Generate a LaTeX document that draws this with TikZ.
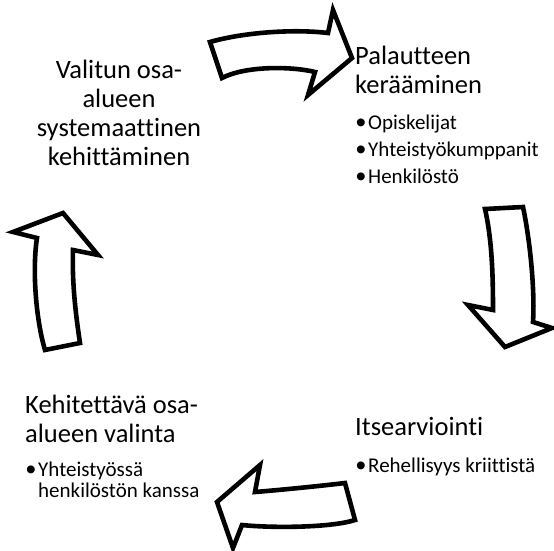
\documentclass[tikz,border=0pt]{standalone}
\usepackage{fontspec}
\setmainfont{Carlito}[Ligatures={NoCommon}]
\newfontfamily\bulletfont{Liberation Sans}
\begin{document}
\begin{tikzpicture}[x=1pt,y=-1pt,
  bigarrow/.style={draw=black,line width=4.6pt,fill=white,line join=miter,miter limit=10},
  head/.style={inner sep=0pt,anchor=base west,font=\fontsize{26.5}{28}\selectfont},
  headc/.style={inner sep=0pt,anchor=base,font=\fontsize{26.5}{28}\selectfont},
  bul/.style={inner sep=0pt,anchor=base west,font=\fontsize{21}{22}\selectfont},
  dot/.style={inner sep=0pt,anchor=base,font=\bulletfont\fontsize{29}{29}\selectfont}]
\useasboundingbox (0,0) rectangle (554,551);
% arrows
\draw[bigarrow] (210,42) .. controls (245,32) and (295,29) .. (328,33) -- (333,10) -- (352,58) -- (308,95) -- (315,72)
  .. controls (290,66) and (245,66) .. (222,78) -- cycle;
\draw[bigarrow] (485,209) -- (523,207) .. controls (530,240) and (535,290) .. (533,322) -- (552,328) -- (505,347) -- (468,305) -- (493,310)
  .. controls (493,275) and (492,240) .. cycle;
\draw[bigarrow] (345,483) .. controls (320,486) and (280,490) .. (255,492) -- (260,465) -- (217,502) -- (233,548) -- (242,525)
  .. controls (270,528) and (330,528) .. (355,520) -- cycle;
\draw[bigarrow] (45,350) -- (80,343) .. controls (75,310) and (72,280) .. (73,250) -- (98,255) -- (63,213) -- (13,232) -- (37,238)
  .. controls (32,270) and (36,320) .. cycle;
% top right
\node[head] (p1) at (355,65) {Palautteen};
\node[head] (p2) at (355,93) {kerääminen};
\node[dot] (pb1) at (361,132) {•};
\node[bul] (pt1) at (368,129) {Opiskelijat};
\node[dot] (pb2) at (361,159) {•};
\node[bul] (pt2) at (368,156) {Yhteistyökumppanit};
\node[dot] (pb3) at (361,186) {•};
\node[bul] (pt3) at (368,183) {Henkilöstö};
% bottom right
\node[head] (i1) at (355,435) {Itsearviointi};
\node[dot] (ib1) at (361,475) {•};
\node[bul] (it1) at (368,472) {Rehellisyys kriittistä};
% bottom left
\node[head] (k1) at (25,413) {Kehitettävä osa-};
\node[head] (k2) at (25,442) {alueen valinta};
\node[dot] (kb1) at (31,479) {•};
\node[bul] (kt1) at (38,476) {Yhteistyössä};
\node[bul] (kt2) at (38,497) {henkilöstön kanssa};
% top left
\node[headc] (v1) at (119,78) {Valitun osa-};
\node[headc] (v2) at (119,107) {alueen};
\node[headc] (v3) at (119,136) {systemaattinen};
\node[headc] (v4) at (119,165) {kehittäminen};
\end{tikzpicture}
\end{document}
